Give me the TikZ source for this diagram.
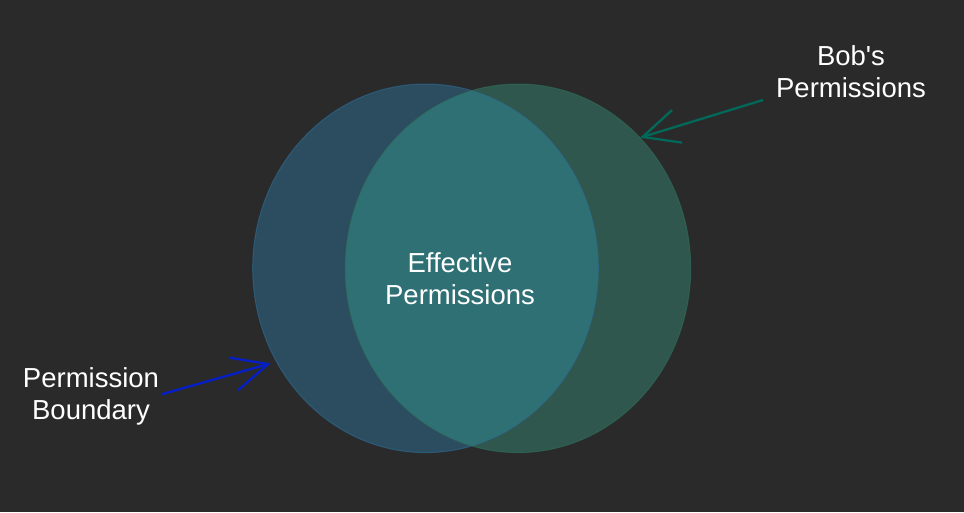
\documentclass[tikz,border=0pt]{standalone}
\usepackage{fontspec}
\setmainfont{Liberation Sans}
\newfontfamily\lblfont{Liberation Sans}
\usetikzlibrary{arrows.meta}
\definecolor{bgc}{RGB}{42,42,42}
\definecolor{bonly}{RGB}{44,77,96}
\definecolor{gonly}{RGB}{47,87,78}
\definecolor{both}{RGB}{47,112,116}
\definecolor{bedge}{RGB}{44,108,150}
\definecolor{gedge}{RGB}{46,112,92}
\definecolor{garrow}{RGB}{0,105,90}
\definecolor{barrow}{RGB}{5,30,200}
\tikzset{
  lbl/.style={text=white, align=center, inner sep=0pt, font=\lblfont\fontsize{27.5}{32}\selectfont},
  pointer/.style={line width=2.3pt, -{Straight Barb[length=36pt,width=34pt,line width=2.3pt]}}
}
\begin{document}
\begin{tikzpicture}[x=1pt,y=-1pt]
\fill[bgc] (0,0) rectangle (964,512);
\useasboundingbox (0,0) rectangle (964,512);
% circles
\fill[bonly] (425.5,268.3) ellipse [x radius=172.8, y radius=184.3];
\fill[gonly] (518,268.3) ellipse [x radius=172.7, y radius=184.3];
\begin{scope}
  \clip (425.5,268.3) ellipse [x radius=172.8, y radius=184.3];
  \fill[both] (518,268.3) ellipse [x radius=172.7, y radius=184.3];
\end{scope}
\draw[bedge, line width=1pt, opacity=0.6] (425.5,268.3) ellipse [x radius=172.8, y radius=184.3];
\draw[gedge, line width=1pt, opacity=0.6] (518,268.3) ellipse [x radius=172.7, y radius=184.3];
% labels
\node[lbl] (eff) at (460,279) {Effective\\Permissions};
\node[lbl] (bob) at (851,72) {Bob's\\Permissions};
\node[lbl] (pb) at (91,396.7) {Permission\\Boundary};
% arrows
\coordinate (gs) at (763,100);
\coordinate (gt) at (640,137.7);
\coordinate (bs) at (161.7,394.3);
\coordinate (bt) at (270.7,363.3);
\draw[pointer, garrow] (gs) -- (gt);
\draw[pointer, barrow] (bs) -- (bt);
\end{tikzpicture}
\end{document}
